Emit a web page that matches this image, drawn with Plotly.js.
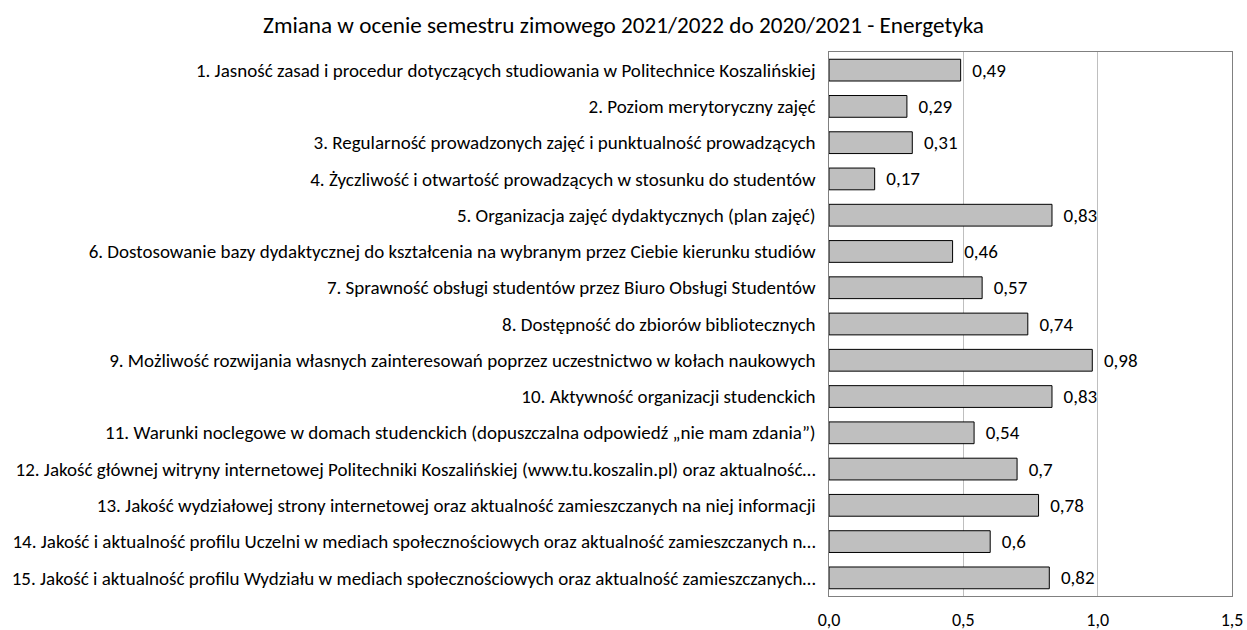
<!DOCTYPE html>
<html><head><meta charset="utf-8">
<script src="https://cdn.plot.ly/plotly-3.0.1.min.js"></script>
<style>html,body{margin:0;padding:0;background:#fff}#c{width:1247px;height:630px}</style>
</head><body><div id="c"></div>
<script>
const categories = [
"1. Jasność zasad i procedur dotyczących studiowania w Politechnice Koszalińskiej",
"2. Poziom merytoryczny zajęć",
"3. Regularność prowadzonych zajęć i punktualność prowadzących",
"4. Życzliwość i otwartość prowadzących w stosunku do studentów",
"5. Organizacja zajęć dydaktycznych (plan zajęć)",
"6. Dostosowanie bazy dydaktycznej do kształcenia na wybranym przez Ciebie kierunku studiów",
"7. Sprawność obsługi studentów przez Biuro Obsługi Studentów",
"8. Dostępność do zbiorów bibliotecznych",
"9. Możliwość rozwijania własnych zainteresowań poprzez uczestnictwo w kołach naukowych",
"10. Aktywność organizacji studenckich",
"11. Warunki noclegowe w domach studenckich (dopuszczalna odpowiedź „nie mam zdania”)",
"12. Jakość głównej witryny internetowej Politechniki Koszalińskiej (www.tu.koszalin.pl) oraz aktualność…",
"13. Jakość wydziałowej strony internetowej oraz aktualność zamieszczanych na niej informacji",
"14. Jakość i aktualność profilu Uczelni w mediach społecznościowych oraz aktualność zamieszczanych n…",
"15. Jakość i aktualność profilu Wydziału w mediach społecznościowych oraz aktualność zamieszczanych…"
];
const values = [0.49, 0.29, 0.31, 0.17, 0.83, 0.46, 0.57, 0.74, 0.98, 0.83, 0.54, 0.7, 0.78, 0.6, 0.82];
const valueLabels = values.map(v => '  ' + String(v).replace('.', ','));
const tickVals = [0, 0.5, 1.0, 1.5];
const tickText = ["0,0", "0,5", "1,0", "1,5"];
const titleText = "Zmiana w ocenie semestru zimowego 2021/2022 do 2020/2021 - Energetyka";

const font = "Carlito, Calibri, Lato, sans-serif";
const fs = 19;
Plotly.newPlot('c', [{
  type: 'bar', orientation: 'h',
  x: values, y: categories,
  text: valueLabels, textposition: 'outside', cliponaxis: false, constraintext: 'none',
  textfont: {family: font, size: fs, color: '#000'},
  marker: {color: '#bfbfbf', line: {color: '#000', width: 1}},
  hoverinfo: 'none'
}], {
  width: 1247, height: 630,
  margin: {l: 829, r: 15, t: 52, b: 34},
  title: {text: titleText, font: {family: font, size: 23.2, color: '#000'}, x: 0.5, xanchor: 'center', y: 0.96, yanchor: 'middle'},
  bargap: 0.4,
  separators: ', ',
  font: {family: font, size: fs, color: '#000'},
  xaxis: {range: [0, 1.5], tickvals: tickVals, ticktext: tickText, showgrid: true, gridcolor: '#bfbfbf', gridwidth: 1,
          zeroline: false, showline: true, linecolor: '#808080', mirror: true, ticks: '', ticklen: 0,
          ticklabelstandoff: 7,
          tickfont: {family: font, size: 18, color: '#000'}, fixedrange: true},
  yaxis: {autorange: 'reversed', showline: true, linecolor: '#808080', mirror: true, ticks: '', showgrid: false,
          tickfont: {family: font, size: fs, color: '#000'}, automargin: false, ticksuffix: '  '},
  showlegend: false,
  plot_bgcolor: '#fff', paper_bgcolor: '#fff'
}, {displayModeBar: false, staticPlot: true});
</script></body></html>
